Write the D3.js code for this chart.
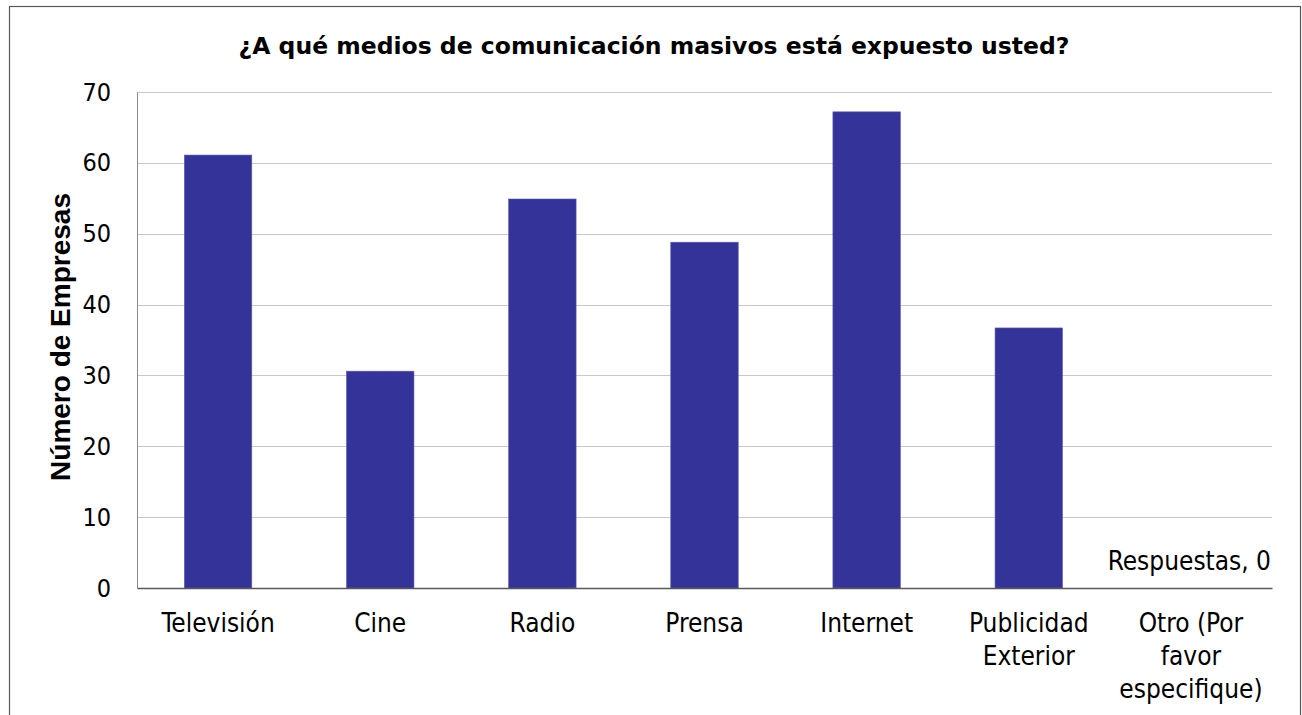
<!DOCTYPE html>
<html>
<head>
<meta charset="utf-8">
<script src="https://cdn.jsdelivr.net/npm/d3@7"></script>
<style>
  html, body { margin: 0; padding: 0; background: #ffffff; }
  svg { display: block; }
</style>
</head>
<body>
<svg id="chart" width="1302" height="715"></svg>
<script>
// Survey responses: exposure to mass media
const categories = ["Televisión", "Cine", "Radio", "Prensa", "Internet", "Publicidad Exterior", "Otro (Por favor especifique)"];
const categoryLines = [["Televisión"], ["Cine"], ["Radio"], ["Prensa"], ["Internet"], ["Publicidad", "Exterior"], ["Otro (Por", "favor", "especifique)"]];
const values = [61.1, 30.6, 54.9, 48.8, 67.2, 36.7, 0];
const yTicks = [0, 10, 20, 30, 40, 50, 60, 70];
const title = "¿A qué medios de comunicación masivos está expuesto usted?";
const yTitle = "Número de Empresas";
const valueLabel = "Respuestas, 0";

const svg = d3.select("#chart");
const W = 1302, H = 715;
const margin = { left: 137, right: 30, top: 92, bottom: 127 };
const plotW = W - margin.left - margin.right;
const plotH = H - margin.top - margin.bottom;

const tickFont = "'DejaVu Sans Condensed', 'DejaVu Sans', sans-serif";
const boldFont = "'DejaVu Sans', sans-serif";

// outer frame
svg.append("rect")
  .attr("x", 9.5).attr("y", 6.5)
  .attr("width", 1291).attr("height", 720)
  .attr("fill", "none").attr("stroke", "#595959").attr("stroke-width", 1.2);

const x = d3.scaleBand()
  .domain(categories)
  .range([0, plotW])
  .paddingInner(0.584)
  .paddingOuter(0.292);

const y = d3.scaleLinear().domain([0, 70]).range([plotH, 0]);

const g = svg.append("g").attr("transform", `translate(${margin.left},${margin.top})`);

// gridlines
g.append("g")
  .selectAll("line")
  .data(yTicks.filter(d => d > 0))
  .join("line")
  .attr("x1", 0).attr("x2", plotW)
  .attr("y1", d => Math.round(y(d)) + 0.5).attr("y2", d => Math.round(y(d)) + 0.5)
  .attr("stroke", "#c8c8c8").attr("stroke-width", 1);

// y axis
const yAxis = g.append("g")
  .call(d3.axisLeft(y).tickValues(yTicks).tickSize(0).tickPadding(26).tickFormat(d3.format("d")));
yAxis.select(".domain").attr("stroke", "#8c8c8c");
yAxis.selectAll("text")
  .attr("font-family", tickFont).attr("font-size", 25).attr("fill", "#000");

// bars
g.append("g")
  .selectAll("rect")
  .data(values)
  .join("rect")
  .attr("x", (d, i) => x(categories[i]))
  .attr("y", d => y(d))
  .attr("width", x.bandwidth())
  .attr("height", d => plotH - y(d))
  .attr("fill", "#333399")
  .attr("stroke", "#5a5ab0").attr("stroke-width", 0.6);

// x axis baseline and category labels
const xAxis = g.append("g")
  .attr("transform", `translate(0,${plotH})`)
  .call(d3.axisBottom(x).tickSize(0).tickFormat(""));
xAxis.select(".domain").attr("stroke", "#595959").attr("stroke-width", 1.3);

const labels = g.append("g").selectAll("text")
  .data(categories)
  .join("text")
  .attr("transform", d => `translate(${x(d) + x.bandwidth() / 2},${plotH + 44})`)
  .attr("text-anchor", "middle")
  .attr("font-family", tickFont).attr("font-size", 26).attr("fill", "#000");
labels.selectAll("tspan")
  .data((d, i) => categoryLines[i])
  .join("tspan")
  .attr("x", 0)
  .attr("dy", (d, j) => j === 0 ? 0 : 33)
  .text(d => d);

// value label for the empty category
g.append("text")
  .attr("x", plotW - 1)
  .attr("y", y(values[values.length - 1]) - 18)
  .attr("text-anchor", "end")
  .attr("font-family", tickFont).attr("font-size", 26).attr("fill", "#000")
  .text(valueLabel);

// chart title
svg.append("text")
  .attr("x", 654).attr("y", 54)
  .attr("text-anchor", "middle")
  .attr("font-family", boldFont).attr("font-weight", "bold").attr("font-size", 23.5)
  .attr("fill", "#000")
  .text(title);

// y axis title
svg.append("text")
  .attr("transform", `translate(70,${margin.top + plotH / 2 - 3}) rotate(-90)`)
  .attr("text-anchor", "middle")
  .attr("font-family", "'Liberation Sans', Arial, sans-serif").attr("font-weight", "bold").attr("font-size", 28)
  .attr("fill", "#000")
  .text(yTitle);
</script>
</body>
</html>
